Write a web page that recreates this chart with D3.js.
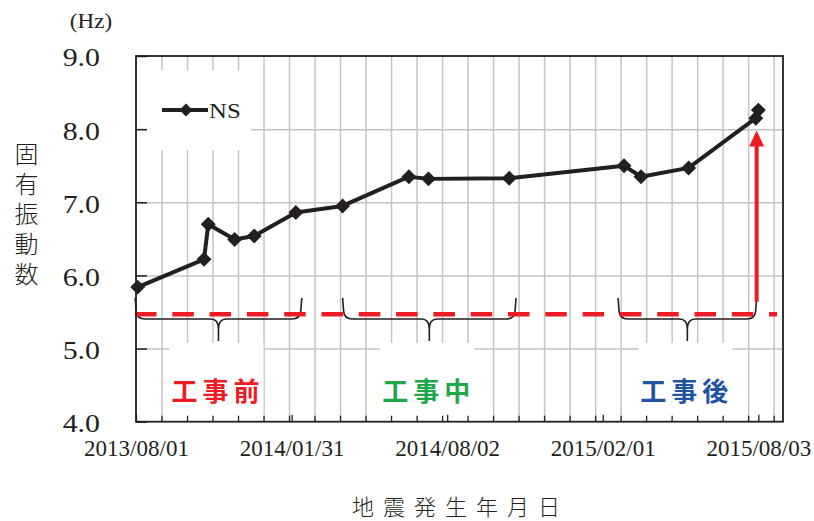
<!DOCTYPE html>
<html>
<head>
<meta charset="utf-8">
<script src="https://cdn.jsdelivr.net/npm/d3@7"></script>
<style>
  body { margin: 0; background: #fff; }
  svg { display: block; }
</style>
</head>
<body>
<svg id="chart" width="814" height="521"></svg>
<script>
// Observed natural frequency (NS direction), by earthquake date
const obsDates = ["2013/08/03", "2013/10/20", "2013/10/25", "2013/11/25", "2013/12/18",
                  "2014/02/05", "2014/04/01", "2014/06/18", "2014/07/11", "2014/10/14",
                  "2015/02/26", "2015/03/18", "2015/05/13", "2015/07/31", "2015/08/03"];
const nsValues = [5.84, 6.22, 6.70, 6.49, 6.54,
                  6.86, 6.95, 7.35, 7.32, 7.33,
                  7.50, 7.35, 7.47, 8.15, 8.26];

// Axis ticks
const yTicks = [4, 5, 6, 7, 8, 9];
const xTickLabels = ["2013/08/01", "2014/01/31", "2014/08/02", "2015/02/01", "2015/08/03"];
const xDomain = ["2013/08/01", "2015/09/01"];

// Construction phases (before / during / after)
const phaseNames = ["工事前", "工事中", "工事後"];
const phaseColors = ["#ec1c24", "#1ea84a", "#2253a3"];
const phaseStarts = ["2013/07/31", "2014/04/01", "2015/02/19"];
const phaseEnds = ["2014/02/12", "2014/10/22", "2015/08/01"];

// Reference level before the works and the increase arrow
const baselineHz = 5.47;
const baselineSpan = ["2013/08/01", "2015/08/25"];
const arrowDate = "2015/08/01";
const arrowHz = [5.64, 7.98];

const parse = d3.utcParse("%Y/%m/%d");
const fmt = d3.utcFormat("%Y/%m/%d");
const ink = "#231f20";
const serif = "'Liberation Serif', 'Times New Roman', serif";
const cjk = "'Noto Sans CJK JP', 'Noto Sans', sans-serif";

const plotL = 136, plotR = 783, plotT = 56, plotB = 421.7;

const x = d3.scaleUtc().domain(xDomain.map(parse)).range([plotL, plotR]);
const y = d3.scaleLinear().domain([4, 9]).range([plotB, plotT]);

const svg = d3.select("#chart");

// minor grid / tick positions every 30 days
const minorDates = d3.utcDay.range(parse(xDomain[0]), parse(xDomain[1]), 30);

// --- grid lines
const vgrid = svg.append("g").attr("transform", `translate(0,${plotB})`)
  .call(d3.axisBottom(x).tickValues(minorDates.slice(1)).tickSize(-(plotB - plotT)).tickFormat(""));
vgrid.select(".domain").remove();
vgrid.selectAll("line").attr("stroke", "#c4c4c4").attr("stroke-width", 1.5);

const hgrid = svg.append("g").attr("transform", `translate(${plotL},0)`)
  .call(d3.axisLeft(y).tickValues(yTicks.filter(v => v > 4 && v < 9)).tickSize(-(plotR - plotL)).tickFormat(""));
hgrid.select(".domain").remove();
hgrid.selectAll("line").attr("stroke", "#c4c4c4").attr("stroke-width", 1.5);

// --- white panels behind legend and phase labels
svg.append("rect").attr("x", 147).attr("y", 70.5).attr("width", 104).attr("height", 79.5).attr("fill", "#fff");

const phases = phaseNames.map((name, i) => {
  const x1 = x(parse(phaseStarts[i])), x2 = x(parse(phaseEnds[i]));
  return { name, color: phaseColors[i], x1, x2, cx: (x1 + x2) / 2 };
});

svg.append("g").selectAll("rect").data(phases).join("rect")
  .attr("x", d => d.cx - 2 - 47).attr("y", 343).attr("width", 94).attr("height", plotB - 343)
  .attr("fill", "#fff");

// --- braces under each phase
const yTop = 298, yMid = 319, yTip = 341;
function bracePath(d) {
  const r = 8, t = d.cx;
  return `M${d.x1},${yTop} L${d.x1 + 1},${yMid - r} Q${d.x1 + 1.5},${yMid} ${d.x1 + r + 2},${yMid}` +
         ` L${t - r},${yMid} Q${t},${yMid} ${t},${yMid + 10} L${t},${yTip}` +
         ` M${t},${yMid + 10} Q${t},${yMid} ${t + r},${yMid}` +
         ` L${d.x2 - r - 2},${yMid} Q${d.x2 - 1.5},${yMid} ${d.x2 - 1},${yMid - r} L${d.x2},${yTop}`;
}
svg.append("g").selectAll("path").data(phases).join("path")
  .attr("d", bracePath).attr("fill", "none").attr("stroke", ink).attr("stroke-width", 1.6);

// --- reference (pre-works) level
svg.append("line")
  .attr("x1", x(parse(baselineSpan[0])) - 1).attr("x2", x(parse(baselineSpan[1])))
  .attr("y1", y(baselineHz)).attr("y2", y(baselineHz))
  .attr("stroke", "#ed1c24").attr("stroke-width", 4.5).attr("stroke-dasharray", "21.5 15.8");

// --- phase labels
const lab = svg.append("g").attr("font-family", cjk).attr("font-weight", 700).attr("font-size", 26);
phases.forEach(p => {
  Array.from(p.name).forEach((ch, k) => {
    lab.append("text")
      .attr("x", p.cx - 3 + (k - 1) * 31).attr("y", 389)
      .attr("text-anchor", "middle").attr("dominant-baseline", "central")
      .attr("fill", p.color).text(ch);
  });
});

// --- series
const pts = obsDates.map((d, i) => ({ date: parse(d), v: nsValues[i] }));
svg.append("path").datum(pts)
  .attr("d", d3.line().x(d => x(d.date)).y(d => y(d.v)))
  .attr("fill", "none").attr("stroke", ink).attr("stroke-width", 4).attr("stroke-linejoin", "round");

const diamond = d3.symbol(d3.symbolSquare, 112)();
svg.append("g").selectAll("path").data(pts).join("path")
  .attr("d", diamond)
  .attr("transform", d => `translate(${x(d.date)},${y(d.v)}) rotate(45)`)
  .attr("fill", ink);

// --- increase arrow
const ax = x(parse(arrowDate));
const aTip = y(arrowHz[1]);
svg.append("line").attr("x1", ax).attr("x2", ax).attr("y1", y(arrowHz[0])).attr("y2", aTip + 14)
  .attr("stroke", "#ed1c24").attr("stroke-width", 4);
svg.append("path")
  .attr("d", `M${ax},${aTip} L${ax + 7.5},${aTip + 16} L${ax - 7.5},${aTip + 16} Z`)
  .attr("fill", "#ed1c24");

// --- frame
svg.append("rect").attr("x", plotL).attr("y", plotT).attr("width", plotR - plotL).attr("height", plotB - plotT)
  .attr("fill", "none").attr("stroke", ink).attr("stroke-width", 1.8);

// --- axes
const sy = 1.15;
const gy = svg.append("g").attr("transform", `translate(${plotL},0)`)
  .call(d3.axisLeft(y).tickValues(yTicks).tickFormat(d3.format(".1f")).tickSize(-11).tickPadding(36));
gy.select(".domain").remove();
gy.selectAll("line").attr("stroke", ink).attr("stroke-width", 1.5);
gy.selectAll("text")
  .attr("font-family", serif).attr("font-size", 26).attr("fill", ink)
  .attr("x", -36 / sy).attr("dy", "0.38em").attr("transform", `scale(${sy},1)`);

const gxMinor = svg.append("g").attr("transform", `translate(0,${plotB})`)
  .call(d3.axisBottom(x).tickValues(minorDates.slice(1)).tickSize(-6).tickFormat(""));
gxMinor.select(".domain").remove();
gxMinor.selectAll("line").attr("stroke", ink).attr("stroke-width", 1.3);

const gx = svg.append("g").attr("transform", `translate(0,${plotB})`)
  .call(d3.axisBottom(x).tickValues(xTickLabels.map(parse)).tickFormat(fmt).tickSize(-7).tickPadding(18));
gx.select(".domain").remove();
gx.selectAll("line").attr("stroke", ink).attr("stroke-width", 1.3);
gx.selectAll("text").attr("font-family", serif).attr("font-size", 23).attr("fill", ink);

// --- legend
svg.append("line").attr("x1", 162).attr("x2", 208).attr("y1", 110).attr("y2", 110)
  .attr("stroke", ink).attr("stroke-width", 4);
svg.append("path").attr("d", d3.symbol(d3.symbolSquare, 85)())
  .attr("transform", "translate(186,110) rotate(45)").attr("fill", ink);
svg.append("text").attr("transform", "translate(209,118.3) scale(1.18,1)")
  .attr("font-family", serif).attr("font-size", 21).attr("fill", ink).text("NS");

// --- unit and axis titles
svg.append("text").attr("transform", "translate(91,28) scale(1.1,1)")
  .attr("text-anchor", "middle").attr("font-family", serif).attr("font-size", 21)
  .attr("fill", ink).text("(Hz)");

// vertical y-axis title, one column of characters
svg.append("text")
  .attr("x", 26.5).attr("y", 142)
  .style("writing-mode", "vertical-rl")
  .style("letter-spacing", "6px")
  .attr("font-family", cjk).attr("font-weight", 300).attr("font-size", 24).attr("fill", ink)
  .text("固有振動数");

const xTitle = svg.append("g").attr("font-family", cjk).attr("font-weight", 300).attr("font-size", 22).attr("fill", ink);
Array.from("地震発生年月日").forEach((ch, k) => {
  xTitle.append("text").attr("x", 456 + (k - 3) * 31).attr("y", 505)
    .attr("text-anchor", "middle").attr("dominant-baseline", "central").text(ch);
});
</script>
</body>
</html>
